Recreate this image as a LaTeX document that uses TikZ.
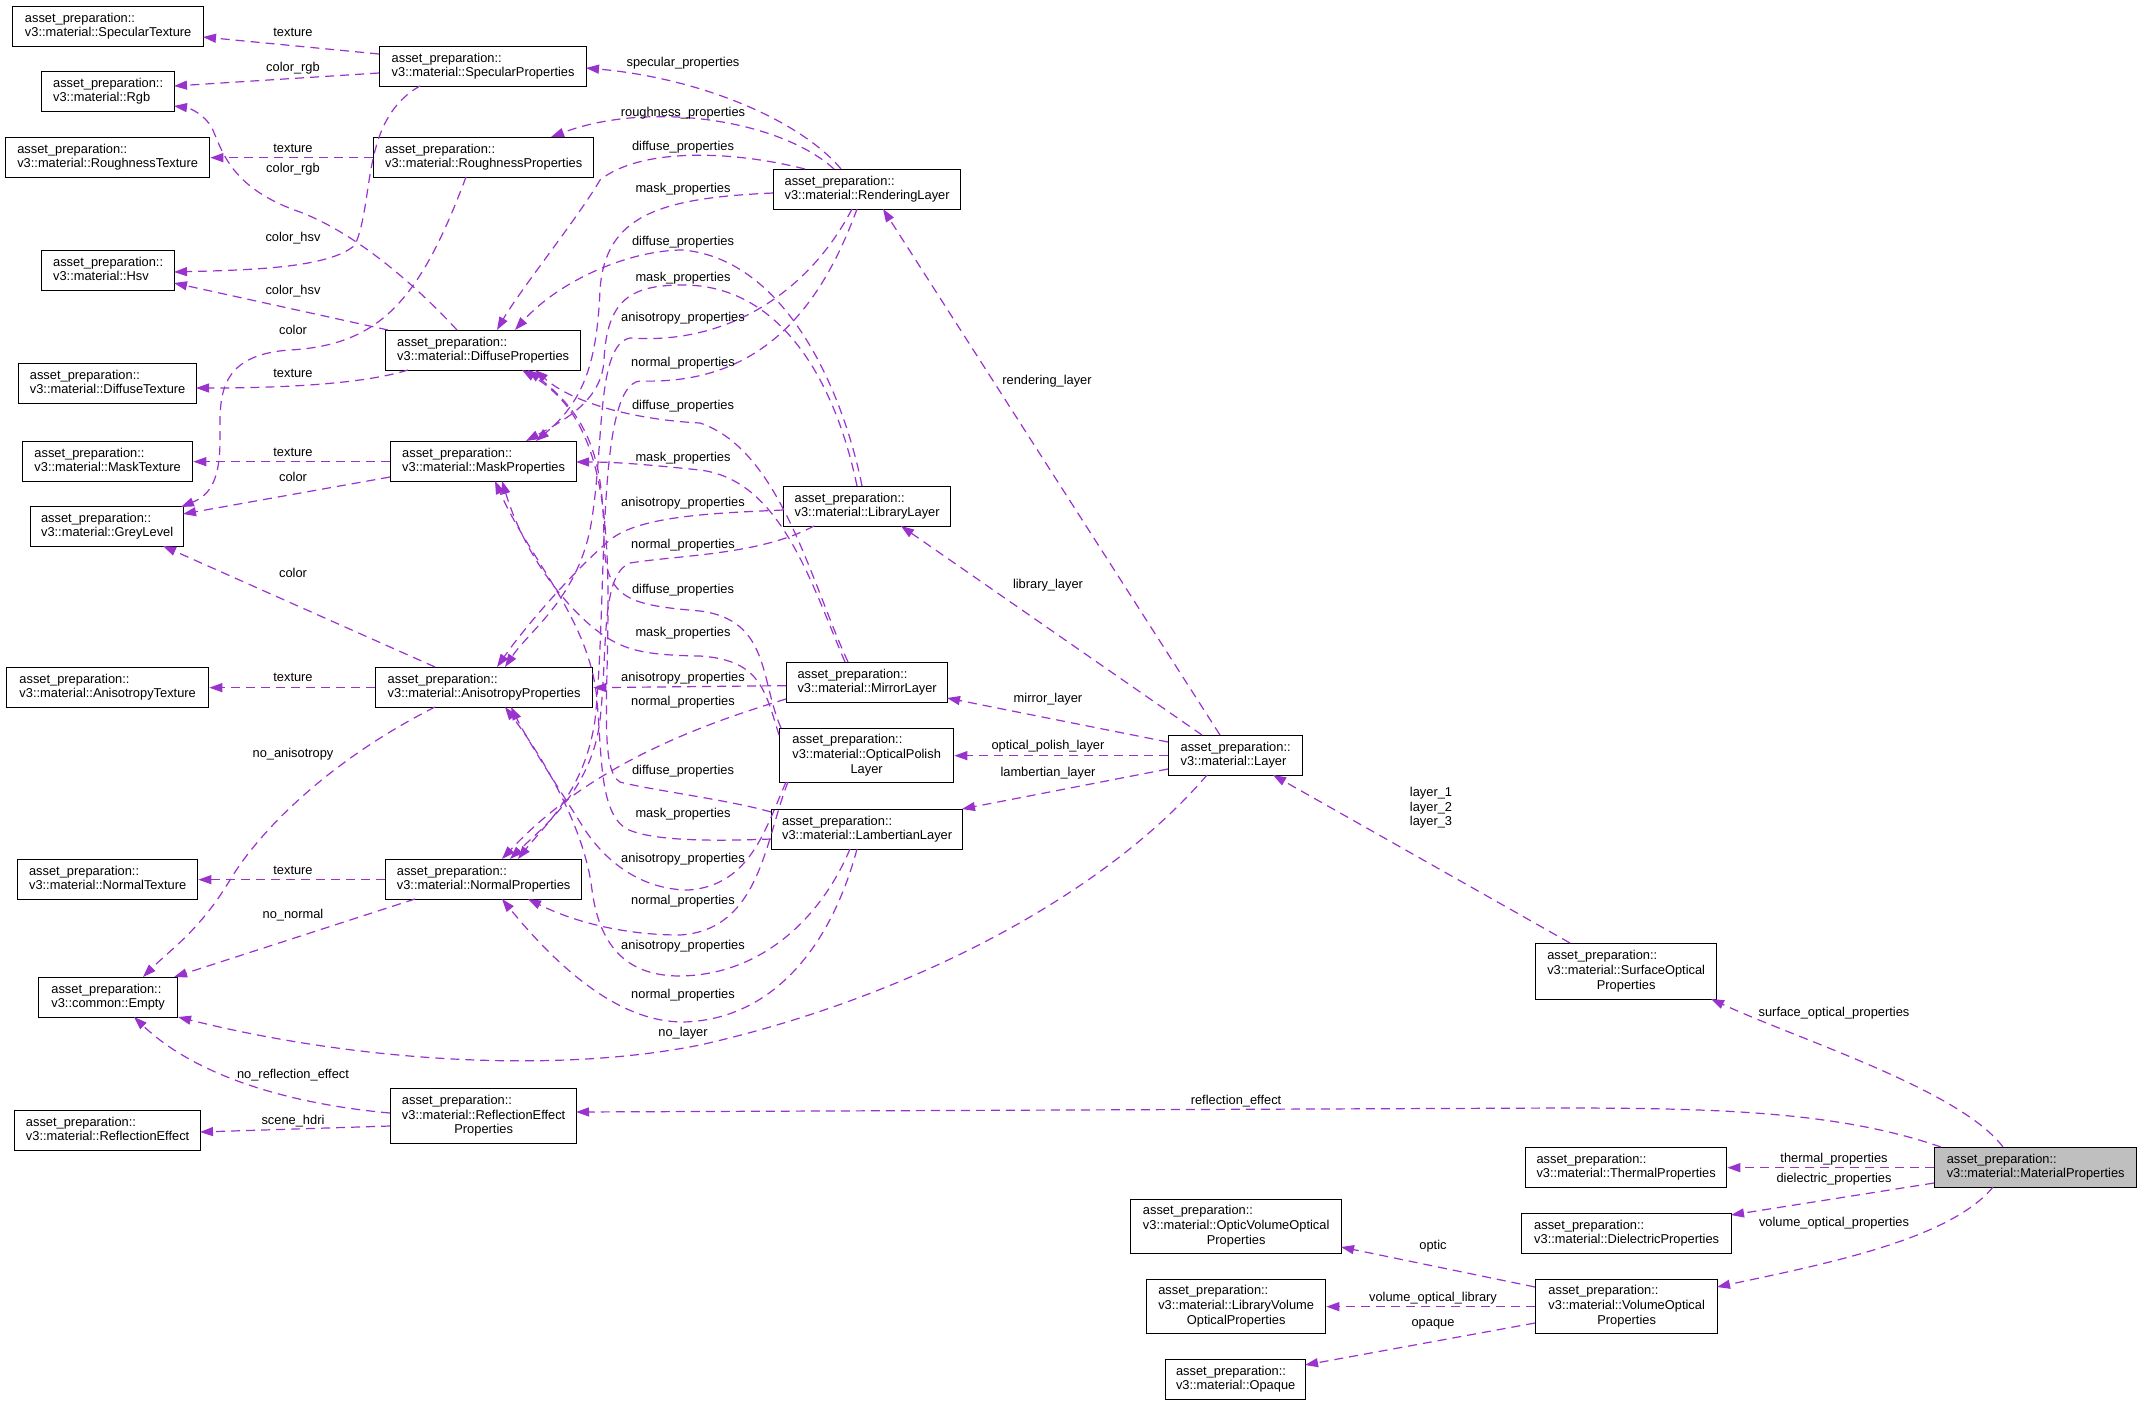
\documentclass[tikz,border=0pt]{standalone}
\usepackage{fontspec}
\setmainfont{Liberation Sans}
\usetikzlibrary{arrows.meta,calc}
\definecolor{edgec}{HTML}{9A32CD}
\definecolor{hl}{HTML}{BFBFBF}
\newcommand\two[1]{\begin{tabular}{@{}l@{}}asset\_preparation::\\#1\end{tabular}}
\newcommand\three[2]{\begin{tabular}{@{}l@{}}asset\_preparation::\\#1\\\multicolumn{1}{@{}c@{}}{#2}\end{tabular}}
\tikzset{
 box/.style={draw=black, line width=1.3pt, fill=white, inner sep=0pt, anchor=north west, font=\fontsize{12.85}{14.6}\selectfont},
 lbl/.style={font=\fontsize{12.85}{14.6}\selectfont, inner sep=0pt, align=center, text height=9.5pt, text depth=3pt},
 rel/.style={draw=edgec, line width=1.2pt, dash pattern=on 9pt off 6pt, -{Triangle[length=13pt,width=9pt]}},
}
\newcommand\cls[6]{\node[box, minimum width=#4pt, minimum height=#5pt] (#1) at (#2,#3) {#6};}
\begin{document}
\begin{tikzpicture}[x=1pt,y=-1pt]
\useasboundingbox[fill=white] (0,0) rectangle (2141,1405);
% nodes
\cls{specTex}{12}{6}{191}{40}{\two{v3::material::SpecularTexture}}
\cls{rgb}{41}{71}{133}{40}{\two{v3::material::Rgb}}
\cls{roughTex}{5}{137}{204}{40}{\two{v3::material::RoughnessTexture}}
\cls{hsv}{41}{250}{133}{40}{\two{v3::material::Hsv}}
\cls{diffTex}{18}{363}{178}{40}{\two{v3::material::DiffuseTexture}}
\cls{maskTex}{22}{441}{170}{40}{\two{v3::material::MaskTexture}}
\cls{grey}{30}{506}{153}{40}{\two{v3::material::GreyLevel}}
\cls{anisoTex}{6}{667}{202}{40}{\two{v3::material::AnisotropyTexture}}
\cls{normTex}{17}{859}{180}{40}{\two{v3::material::NormalTexture}}
\cls{empty}{38}{977}{139}{40}{\two{v3::common::Empty}}
\cls{reflEff}{14}{1110}{186}{40}{\two{v3::material::ReflectionEffect}}
\cls{specP}{379}{46}{207}{40}{\two{v3::material::SpecularProperties}}
\cls{roughP}{373}{137}{220}{40}{\two{v3::material::RoughnessProperties}}
\cls{diffP}{385}{330}{195}{40}{\two{v3::material::DiffuseProperties}}
\cls{maskP}{390}{441}{186}{40}{\two{v3::material::MaskProperties}}
\cls{anisoP}{375}{667}{217}{40}{\two{v3::material::AnisotropyProperties}}
\cls{normP}{385}{859}{196}{40}{\two{v3::material::NormalProperties}}
\cls{reflP}{390}{1088}{186}{55}{\three{v3::material::ReflectionEffect}{Properties}}
\cls{renderL}{773}{169}{187}{40}{\two{v3::material::RenderingLayer}}
\cls{libL}{783}{486}{167}{40}{\two{v3::material::LibraryLayer}}
\cls{mirrorL}{786}{662}{161}{40}{\two{v3::material::MirrorLayer}}
\cls{optPol}{779}{728}{174}{54}{\three{v3::material::OpticalPolish}{Layer}}
\cls{lambL}{771}{809}{191}{40}{\two{v3::material::LambertianLayer}}
\cls{layer}{1168}{735}{134}{40}{\two{v3::material::Layer}}
\cls{surf}{1535}{943}{181}{56}{\three{v3::material::SurfaceOptical}{Properties}}
\node[box, fill=hl, minimum width=202pt, minimum height=40pt] (matP) at (1934,1147) {\two{v3::material::MaterialProperties}};
\cls{thermal}{1525}{1147}{201}{40}{\two{v3::material::ThermalProperties}}
\cls{dielec}{1521}{1213}{210}{40}{\two{v3::material::DielectricProperties}}
\cls{opticVol}{1130}{1199}{211}{54}{\three{v3::material::OpticVolumeOptical}{Properties}}
\cls{libVol}{1146}{1279}{179}{54}{\three{v3::material::LibraryVolume}{OpticalProperties}}
\cls{volOpt}{1535}{1279}{182}{54}{\three{v3::material::VolumeOptical}{Properties}}
\cls{opaque}{1165}{1359}{140}{40}{\two{v3::material::Opaque}}
% left column edges
\draw[rel] ($(specP.north west)+(0,8)$) -- ($(specTex.north west)+(191,31)$);
\draw[rel] ($(specP.north west)+(0,27)$) -- ($(rgb.north west)+(133,15)$);
\draw[rel] ($(specP.north west)+(41,40)$) .. controls (360,120) and (375,200) .. (355,245) .. controls (330,268) and (250,270) .. ($(hsv.north west)+(133,22)$);
\draw[rel] (roughP.west) -- (roughTex.east);
\draw[rel] ($(roughP.north west)+(93,40)$) .. controls (420,300) and (380,345) .. (290,350) .. controls (215,355) and (220,400) .. (220,440) .. controls (220,480) and (210,495) .. ($(grey.north west)+(151,1)$);
\draw[rel] ($(diffP.north west)+(72,0)$) .. controls (420,290) and (360,235) .. (300,212) .. controls (230,188) and (222,150) .. (212,128) .. controls (205,115) and (190,108) .. ($(rgb.north west)+(133,35)$);
\draw[rel] ($(diffP.north west)+(3,0)$) -- ($(hsv.north west)+(133,33)$);
\draw[rel] ($(diffP.north west)+(23,40)$) .. controls (370,382) and (300,388) .. ($(diffTex.north west)+(178,25)$);
\draw[rel] (maskP.west) -- (maskTex.east);
\draw[rel] ($(maskP.north west)+(0,36)$) -- ($(grey.north west)+(153,8)$);
\draw[rel] ($(anisoP.north west)+(60,0)$) -- ($(grey.north west)+(133,40)$);
\draw[rel] (anisoP.west) -- (anisoTex.east);
\draw[rel] ($(anisoP.north west)+(60,40)$) .. controls (330,760) and (260,830) .. (230,880) .. controls (200,930) and (170,950) .. ($(empty.north west)+(105,0)$);
\draw[rel] (normP.west) -- (normTex.east);
\draw[rel] ($(normP.north west)+(30,40)$) -- ($(empty.north west)+(136,0)$);
\draw[rel] ($(layer.north west)+(39,40)$) .. controls (1100,900) and (900,1000) .. (700,1045) .. controls (550,1075) and (350,1060) .. ($(empty.north west)+(140,40)$);
\draw[rel] ($(reflP.north west)+(0,25)$) .. controls (300,1105) and (200,1080) .. ($(empty.north west)+(96,40)$);
\draw[rel] ($(reflP.north west)+(0,38)$) -- ($(reflEff.north west)+(186,22)$);
% middle edges
\draw[rel] ($(renderL.north west)+(68,0)$) .. controls (800,120) and (700,78) .. ($(specP.north west)+(207,22)$);
\draw[rel] ($(renderL.north west)+(61,0)$) .. controls (780,120) and (650,100) .. ($(roughP.north west)+(178,0)$);
\draw[rel] ($(renderL.north west)+(32,0)$) .. controls (730,150) and (640,148) .. (600,180) .. controls (580,215) and (520,290) .. ($(diffP.north west)+(112,0)$);
\draw[rel] ($(renderL.north west)+(0,24)$) .. controls (660,198) and (605,215) .. (600,290) .. controls (597,360) and (585,400) .. ($(maskP.north west)+(146,0)$);
\draw[rel] ($(renderL.north west)+(79,40)$) .. controls (810,290) and (730,345) .. (630,338) .. controls (595,345) and (605,450) .. (590,530) .. controls (575,600) and (530,630) .. ($(anisoP.north west)+(130,0)$);
\draw[rel] ($(renderL.north west)+(84,40)$) .. controls (820,310) and (760,385) .. (640,381) .. controls (595,385) and (608,600) .. (595,720) .. controls (585,790) and (545,825) .. ($(normP.north west)+(133,0)$);
\draw[rel] ($(libL.north west)+(79,0)$) .. controls (845,400) and (790,260) .. (683,250) .. controls (630,250) and (560,280) .. ($(diffP.north west)+(130,0)$);
\draw[rel] ($(libL.north west)+(74,0)$) .. controls (835,380) and (780,285) .. (683,285) .. controls (630,285) and (607,300) .. (604,360) .. controls (602,400) and (565,420) .. ($(maskP.north west)+(136,0)$);
\draw[rel] ($(libL.north west)+(0,24)$) .. controls (720,513) and (640,515) .. (610,540) .. controls (580,565) and (530,620) .. ($(anisoP.north west)+(122,0)$);
\draw[rel] ($(libL.north west)+(31,40)$) .. controls (760,555) and (680,555) .. (630,563) .. controls (600,575) and (608,650) .. (600,720) .. controls (592,790) and (540,830) .. ($(normP.north west)+(125,0)$);
\draw[rel] ($(mirrorL.north west)+(62,0)$) .. controls (810,580) and (780,450) .. (700,423) .. controls (640,420) and (575,405) .. ($(diffP.north west)+(150,40)$);
\draw[rel] ($(mirrorL.north west)+(59,0)$) .. controls (810,580) and (780,480) .. (700,470) .. controls (650,465) and (620,462) .. ($(maskP.north west)+(186,21)$);
\draw[rel] ($(mirrorL.west)+(0,3)$) -- (anisoP.east);
\draw[rel] ($(mirrorL.north west)+(0,37)$) .. controls (700,725) and (590,765) .. ($(normP.north west)+(117,0)$);
\draw[rel] ($(optPol.north west)+(2,0)$) .. controls (760,680) and (770,620) .. (700,611) .. controls (630,605) and (605,600) .. (604,540) .. controls (603,470) and (595,420) .. ($(diffP.north west)+(143,40)$);
\draw[rel] ($(optPol.north west)+(0,7)$) .. controls (765,690) and (760,660) .. (700,656) .. controls (640,655) and (620,650) .. (590,625) .. controls (550,590) and (520,540) .. ($(maskP.north west)+(112,40)$);
\draw[rel] ($(lambL.north west)+(0,3)$) .. controls (730,800) and (650,790) .. (620,782) .. controls (600,770) and (608,700) .. (608,600) .. controls (608,480) and (590,410) .. ($(diffP.north west)+(137,40)$);
\draw[rel] ($(lambL.north west)+(0,30)$) .. controls (720,841) and (650,842) .. (625,828) .. controls (600,810) and (602,760) .. (597,700) .. controls (590,620) and (530,560) .. ($(maskP.north west)+(105,40)$);
\draw[rel] ($(optPol.north west)+(7,54)$) .. controls (765,830) and (750,885) .. (689,890) .. controls (640,890) and (605,860) .. (585,830) .. controls (560,790) and (530,745) .. ($(anisoP.north west)+(136,40)$);
\draw[rel] ($(optPol.north west)+(9,54)$) .. controls (765,840) and (760,930) .. (680,935) .. controls (620,935) and (570,920) .. ($(normP.north west)+(143,40)$);
\draw[rel] ($(lambL.north west)+(79,40)$) .. controls (820,920) and (760,975) .. (680,976) .. controls (630,976) and (600,950) .. (592,890) .. controls (585,830) and (545,760) .. ($(anisoP.north west)+(130,40)$);
\draw[rel] ($(lambL.north west)+(86,40)$) .. controls (830,950) and (770,1020) .. (683,1022) .. controls (620,1022) and (560,970) .. ($(normP.north west)+(117,40)$);
% layer edges
\draw[rel] ($(layer.north west)+(52,0)$) -- ($(renderL.north west)+(110,40)$);
\draw[rel] ($(layer.north west)+(34,0)$) -- ($(libL.north west)+(118,40)$);
\draw[rel] ($(layer.north west)+(0,7)$) -- ($(mirrorL.north west)+(161,36)$);
\draw[rel] (layer.west) -- (optPol.east);
\draw[rel] ($(layer.north west)+(0,34)$) -- ($(lambL.north west)+(191,0)$);
\draw[rel] ($(surf.north west)+(35,0)$) -- ($(layer.north west)+(105,40)$);
% material edges
\draw[rel] ($(matP.north west)+(69,0)$) .. controls (1960,1090) and (1800,1040) .. ($(surf.north west)+(176,56)$);
\draw[rel] ($(matP.north west)+(7,0)$) .. controls (1840,1112) and (1720,1108) .. (1560,1108) -- ($(reflP.north west)+(186,24)$);
\draw[rel] (matP.west) -- (thermal.east);
\draw[rel] ($(matP.north west)+(0,36)$) -- ($(dielec.north west)+(210,2)$);
\draw[rel] ($(matP.north west)+(59,40)$) .. controls (1950,1240) and (1820,1265) .. ($(volOpt.north west)+(182,8)$);
\draw[rel] ($(volOpt.north west)+(0,8)$) -- ($(opticVol.north west)+(211,48)$);
\draw[rel] (volOpt.west) -- (libVol.east);
\draw[rel] ($(volOpt.north west)+(0,44)$) -- ($(opaque.north west)+(140,6)$);
% labels left
\node[lbl] (a1) at (293,33) {texture};
\node[lbl] (a2) at (293,68) {color\_rgb};
\node[lbl] (a3) at (293,149) {texture};
\node[lbl] (a4) at (293,169) {color\_rgb};
\node[lbl] (a5) at (293,238) {color\_hsv};
\node[lbl] (a6) at (293,291) {color\_hsv};
\node[lbl] (a7) at (293,331) {color};
\node[lbl] (a8) at (293,374) {texture};
\node[lbl] (a9) at (293,453) {texture};
\node[lbl] (a10) at (293,478) {color};
\node[lbl] (a11) at (293,574) {color};
\node[lbl] (a12) at (293,678) {texture};
\node[lbl] (a13) at (293,754) {no\_anisotropy};
\node[lbl] (a14) at (293,871) {texture};
\node[lbl] (a15) at (293,915) {no\_normal};
\node[lbl] (a16) at (293,1075) {no\_reflection\_effect};
\node[lbl] (a17) at (293,1121) {scene\_hdri};
% labels middle
\node[lbl] (b1) at (683,63) {specular\_properties};
\node[lbl] (b2) at (683,113) {roughness\_properties};
\node[lbl] (b3) at (683,147) {diffuse\_properties};
\node[lbl] (b4) at (683,189) {mask\_properties};
\node[lbl] (b5) at (683,242) {diffuse\_properties};
\node[lbl] (b6) at (683,278) {mask\_properties};
\node[lbl] (b7) at (683,318) {anisotropy\_properties};
\node[lbl] (b8) at (683,363) {normal\_properties};
\node[lbl] (b9) at (683,406) {diffuse\_properties};
\node[lbl] (b10) at (683,458) {mask\_properties};
\node[lbl] (b11) at (683,503) {anisotropy\_properties};
\node[lbl] (b12) at (683,545) {normal\_properties};
\node[lbl] (b13) at (683,590) {diffuse\_properties};
\node[lbl] (b14) at (683,633) {mask\_properties};
\node[lbl] (b15) at (683,678) {anisotropy\_properties};
\node[lbl] (b16) at (683,702) {normal\_properties};
\node[lbl] (b17) at (683,771) {diffuse\_properties};
\node[lbl] (b18) at (683,814) {mask\_properties};
\node[lbl] (b19) at (683,859) {anisotropy\_properties};
\node[lbl] (b20) at (683,901) {normal\_properties};
\node[lbl] (b21) at (683,946) {anisotropy\_properties};
\node[lbl] (b22) at (683,995) {normal\_properties};
\node[lbl] (b23) at (683,1033) {no\_layer};
% labels right
\node[lbl] (c1) at (1047,381) {rendering\_layer};
\node[lbl] (c2) at (1048,585) {library\_layer};
\node[lbl] (c3) at (1048,699) {mirror\_layer};
\node[lbl] (c4) at (1048,746) {optical\_polish\_layer};
\node[lbl] (c5) at (1048,773) {lambertian\_layer};
\node[lbl, text height=, text depth=] (c6) at (1431,808) {layer\_1\\layer\_2\\layer\_3};
\node[lbl] (c7) at (1834,1013) {surface\_optical\_properties};
\node[lbl] (c8) at (1236,1101) {reflection\_effect};
\node[lbl] (c9) at (1834,1159) {thermal\_properties};
\node[lbl] (c10) at (1834,1179) {dielectric\_properties};
\node[lbl] (c11) at (1834,1223) {volume\_optical\_properties};
\node[lbl] (c12) at (1433,1246) {optic};
\node[lbl] (c13) at (1433,1298) {volume\_optical\_library};
\node[lbl] (c14) at (1433,1323) {opaque};
\end{tikzpicture}
\end{document}
